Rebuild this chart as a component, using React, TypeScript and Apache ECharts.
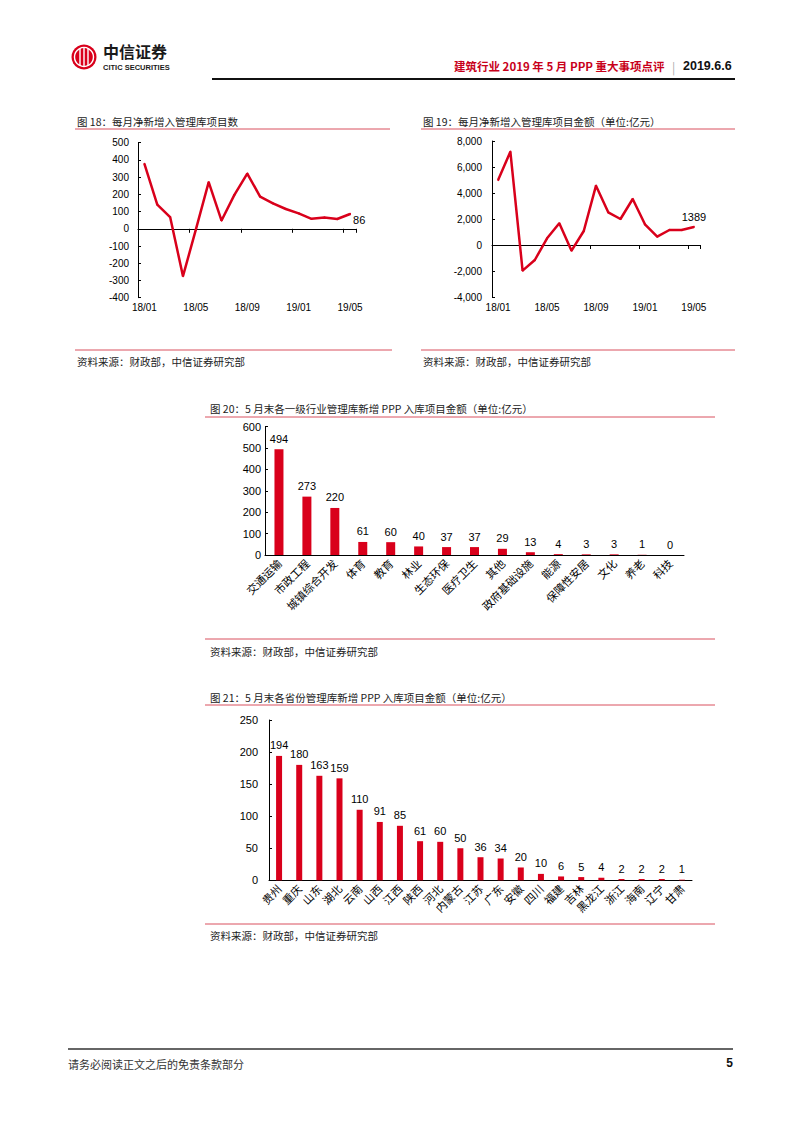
import React, { useEffect, useRef } from "react";
import * as echarts from "echarts";

// ---------- data ----------
const monthLabels = [
  "18/01", "18/02", "18/03", "18/04", "18/05", "18/06", "18/07", "18/08", "18/09",
  "18/10", "18/11", "18/12", "19/01", "19/02", "19/03", "19/04", "19/05",
];
const netNewCount = [377, 141, 68, -275, -5, 271, 48, 197, 321, 187, 148, 115, 90, 58, 65, 57, 86];
const netNewAmount = [5000, 7180, -1974, -1154, 513, 1667, -436, 1077, 4564, 2513, 2000, 3538, 1590, 641, 1154, 1154, 1389];

const industries = [
  "交通运输", "市政工程", "城镇综合开发", "体育", "教育", "林业", "生态环保", "医疗卫生",
  "其他", "政府基础设施", "能源", "保障性安居", "文化", "养老", "科技",
];
const industryValues = [494, 273, 220, 61, 60, 40, 37, 37, 29, 13, 4, 3, 3, 1, 0];

const provinces = [
  "贵州", "重庆", "山东", "湖北", "云南", "山西", "江西", "陕西", "河北", "内蒙古", "江苏",
  "广东", "安徽", "四川", "福建", "吉林", "黑龙江", "浙江", "海南", "辽宁", "甘肃",
];
const provinceValues = [194, 180, 163, 159, 110, 91, 85, 61, 60, 50, 36, 34, 20, 10, 6, 5, 4, 2, 2, 2, 1];

const countTicks = { min: -400, max: 500, interval: 100 };
const amountTicks = { min: -4000, max: 8000, interval: 2000 };
const industryTicks = { min: 0, max: 600, interval: 100 };
const provinceTicks = { min: 0, max: 250, interval: 50 };

// ---------- styles ----------
const RED = "#D9001B";
const RULE = "#D9505E";
const NUM_FONT = "'Liberation Sans', Arial, sans-serif";
const CJK_FONT = "'Noto Sans CJK SC', 'Liberation Sans', sans-serif";

function lastLabelData(values: number[], label: any) {
  return values.map((v, i) => (i === values.length - 1 ? { value: v, label: { show: true, ...label } } : v));
}

function lineXAxes(gridIndex: number) {
  return [
    {
      gridIndex,
      type: "category",
      data: monthLabels,
      position: "top",
      boundaryGap: true,
      axisLine: { show: true, onZero: true, lineStyle: { color: "#000", width: 1 } },
      axisTick: { show: true, inside: true, interval: 3, length: 4, lineStyle: { color: "#000" } },
      axisLabel: { show: false },
      splitLine: { show: false },
    },
    {
      gridIndex,
      type: "category",
      data: monthLabels,
      position: "bottom",
      boundaryGap: true,
      axisLine: { show: false, onZero: false },
      axisTick: { show: false },
      axisLabel: { interval: 3, margin: 5, fontSize: 10, color: "#000", fontFamily: NUM_FONT },
      splitLine: { show: false },
    },
  ];
}

function valueYAxis(gridIndex: number, ticks: any, margin: number, fontSize: number, fmt?: (v: number) => string) {
  return {
    gridIndex,
    type: "value",
    min: ticks.min,
    max: ticks.max,
    interval: ticks.interval,
    axisLine: { show: true, lineStyle: { color: "#000", width: 1 } },
    axisTick: { show: true, inside: true, length: 3, lineStyle: { color: "#000" } },
    splitLine: { show: false },
    axisLabel: {
      margin,
      fontSize,
      color: "#000",
      fontFamily: NUM_FONT,
      formatter: fmt ? fmt : (v: number) => String(v),
    },
  };
}

function barXAxis(gridIndex: number, data: string[]) {
  return {
    gridIndex,
    type: "category",
    data,
    boundaryGap: true,
    axisLine: { show: true, lineStyle: { color: "#000", width: 1 } },
    axisTick: { show: false },
    axisLabel: { interval: 0, rotate: 45, margin: 6, fontSize: 11, color: "#000", fontFamily: CJK_FONT },
    splitLine: { show: false },
  };
}

function txt(text: string, x: number, y: number, fontSize: number, extra: any = {}) {
  return {
    type: "text",
    x,
    y,
    silent: true,
    style: {
      text,
      fontSize,
      fontFamily: CJK_FONT,
      fill: "#222",
      verticalAlign: "middle",
      align: "left",
      ...extra,
    },
  };
}

function rule(x1: number, x2: number, y: number, stroke = RULE, lineWidth = 1) {
  return { type: "line", silent: true, shape: { x1, y1: y, x2, y2: y }, style: { stroke, lineWidth } };
}

export default function App() {
  const ref = useRef<HTMLDivElement>(null);

  useEffect(() => {
    if (!ref.current) return;
    const chart = echarts.init(ref.current, undefined, { renderer: "svg" });

    const graphic: any[] = [
      // logo emblem
      { type: "circle", silent: true, shape: { cx: 84, cy: 57, r: 12.5 }, style: { fill: RED } },
      { type: "circle", silent: true, shape: { cx: 84, cy: 57, r: 9.5 }, style: { fill: "none", stroke: "#fff", lineWidth: 1.4 } },
      { type: "line", silent: true, shape: { x1: 80, y1: 49, x2: 80, y2: 65 }, style: { stroke: "#fff", lineWidth: 1.4 } },
      { type: "line", silent: true, shape: { x1: 84, y1: 47, x2: 84, y2: 67 }, style: { stroke: "#fff", lineWidth: 1.4 } },
      { type: "line", silent: true, shape: { x1: 88, y1: 49, x2: 88, y2: 65 }, style: { stroke: "#fff", lineWidth: 1.4 } },
      txt("中信证券", 103, 51, 16, { fontWeight: "bold", fill: "#1a1a1a" }),
      txt("CITIC SECURITIES", 103, 67.5, 7.5, { fontWeight: "bold", fill: "#1a1a1a", fontFamily: "'Liberation Sans Narrow', 'Liberation Sans', sans-serif" }),
      // header
      txt("建筑行业 2019 年 5 月 PPP 重大事项点评", 454, 66, 11.5, { fontWeight: "bold", fill: "#C8001A" }),
      txt("|", 672, 66, 12, { fill: "#aaa" }),
      txt("2019.6.6", 683, 66, 12.5, { fontWeight: "bold", fill: "#111", fontFamily: NUM_FONT }),
      rule(212, 735, 79, "#111", 2),

      // chart 18
      txt("图 18：每月净新增入管理库项目数", 77, 121, 10.5),
      rule(75, 390, 129),
      rule(75, 392, 350),
      txt("资料来源：财政部，中信证券研究部", 77, 361, 10.5),

      // chart 19
      txt("图 19：每月净新增入管理库项目金额（单位:亿元）", 423, 121, 10.5),
      rule(421, 735, 129),
      rule(421, 735, 350),
      txt("资料来源：财政部，中信证券研究部", 423, 361, 10.5),

      // chart 20
      txt("图 20：5 月末各一级行业管理库新增 PPP 入库项目金额（单位:亿元）", 210, 408, 10.5),
      rule(205, 715, 417),
      rule(205, 715, 639),
      txt("资料来源：财政部，中信证券研究部", 210, 651, 10.5),

      // chart 21
      txt("图 21：5 月末各省份管理库新增 PPP 入库项目金额（单位:亿元）", 210, 697, 10.5),
      rule(205, 715, 705),
      rule(205, 715, 924),
      txt("资料来源：财政部，中信证券研究部", 210, 935, 10.5),

      // footer
      rule(68, 733, 1049, "#333", 1.5),
      txt("请务必阅读正文之后的免责条款部分", 68, 1064, 11, { fill: "#333" }),
      txt("5", 733, 1063, 12, { fontWeight: "bold", fill: "#111", align: "right", fontFamily: NUM_FONT }),
    ];

    const option: any = {
      animation: false,
      backgroundColor: "#fff",
      textStyle: { fontFamily: NUM_FONT },
      grid: [
        { left: 138, top: 142.7, width: 218.5, height: 155, containLabel: false },
        { left: 492, top: 141, width: 208, height: 156, containLabel: false },
        { left: 265, top: 426.7, width: 419, height: 128.3, containLabel: false },
        { left: 269, top: 720, width: 423, height: 160.3, containLabel: false },
      ],
      xAxis: [
        ...lineXAxes(0),
        ...lineXAxes(1),
        barXAxis(2, industries),
        barXAxis(3, provinces),
      ],
      yAxis: [
        valueYAxis(0, countTicks, 9, 10),
        valueYAxis(1, amountTicks, 10, 10, (v: number) => v.toLocaleString("en-US")),
        valueYAxis(2, industryTicks, 4, 11),
        valueYAxis(3, provinceTicks, 11, 11),
      ],
      series: [
        {
          type: "line",
          xAxisIndex: 0,
          yAxisIndex: 0,
          data: lastLabelData(netNewCount, { position: "right", distance: 2, offset: [0, 6] }),
          symbol: "circle",
          symbolSize: 2,
          itemStyle: { color: RED },
          lineStyle: { color: RED, width: 2.5 },
          label: { show: false, fontSize: 11, color: "#000", fontFamily: NUM_FONT },
        },
        {
          type: "line",
          xAxisIndex: 2,
          yAxisIndex: 1,
          data: lastLabelData(netNewAmount, { position: "top", distance: 3 }),
          symbol: "circle",
          symbolSize: 2,
          itemStyle: { color: RED },
          lineStyle: { color: RED, width: 2.5 },
          label: { show: false, fontSize: 11, color: "#000", fontFamily: NUM_FONT },
        },
        {
          type: "bar",
          xAxisIndex: 4,
          yAxisIndex: 2,
          data: industryValues,
          barWidth: 9,
          itemStyle: { color: RED },
          label: { show: true, position: "top", distance: 5, fontSize: 11, color: "#000", fontFamily: NUM_FONT },
        },
        {
          type: "bar",
          xAxisIndex: 5,
          yAxisIndex: 3,
          data: provinceValues,
          barWidth: 6,
          itemStyle: { color: RED },
          label: { show: true, position: "top", distance: 5, fontSize: 11, color: "#000", fontFamily: NUM_FONT },
        },
      ],
      graphic,
    };

    chart.setOption(option);
    return () => chart.dispose();
  }, []);

  return (
    <div
      ref={ref}
      style={{ position: "absolute", left: 0, top: 0, width: 802, height: 1133, background: "#fff" }}
    />
  );
}
